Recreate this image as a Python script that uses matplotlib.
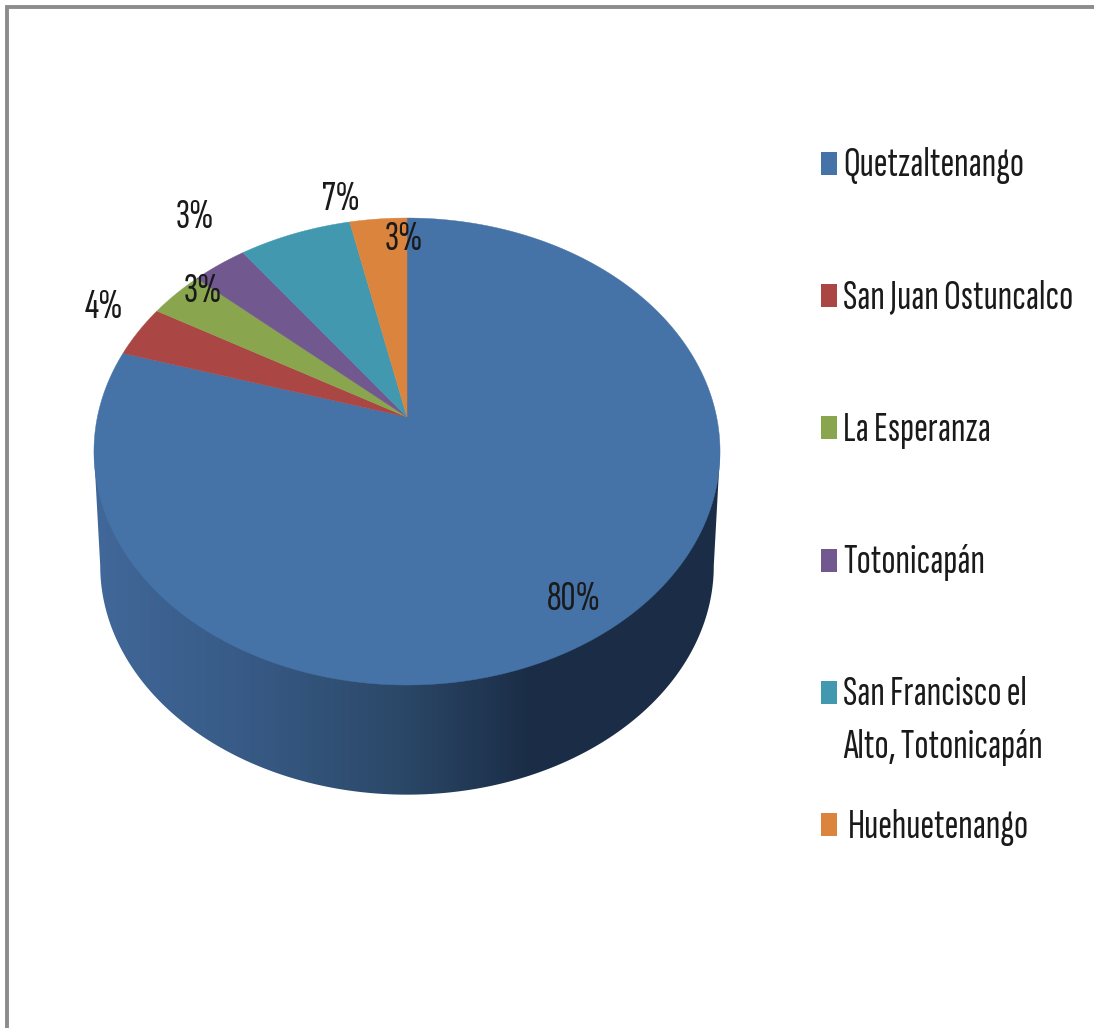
# 3D style pie, drawn on an axes that runs in image pixels
import numpy as np
import matplotlib
matplotlib.use('Agg')
import matplotlib.pyplot as plt
from matplotlib.patches import Rectangle

plt.rcParams['font.family'] = ['Sofia Sans Extra Condensed', 'Fira Sans Extra Condensed', 'Open Sans Condensed', 'Liberation Sans', 'DejaVu Sans']

labels = ['Quetzaltenango', 'San Juan Ostuncalco', 'La Esperanza', 'Totonicapán',
          'San Francisco el\nAlto, Totonicapán', 'Huehuetenango']
values = [79.7, 3.6, 3.3, 3.3, 6.7, 3.4]
colors = ['#4572A7', '#AA4643', '#89A54E', '#71588F', '#4198AF', '#DB843D']

wall_stops = [94, 250, 400, 530, 720]
wall_cols = ['#41689A', '#375A85', '#2B4868', '#1B2D46', '#1B2D46']

W, H = 1094, 1028
fig = plt.figure(figsize=(W / 100, H / 100), dpi=100)
ax = fig.add_axes([0, 0, 1, 1])
ax.set_xlim(0, W)
ax.set_ylim(H, 0)
ax.axis('off')

# outer frame, only top and left are in view
ax.plot([7, 7, W], [H, 7, 7], color='#8c8c8c', lw=2.8, solid_joinstyle='miter')


# perspective map of the unit disc, t is clockwise from 12 o'clock
def disc(t, scale=1.0, dy=0.0):
    X = np.sin(t)
    Y = np.cos(t)
    w = 1 + 0.1478 * Y
    return 407 + scale * 309.6 * X / w, 417 + dy - scale * 228.4 * Y / w


# side wall with horizontal shading, clipped to the outline
t0 = np.arccos(-0.1478)
t_low = np.linspace(t0, 2 * np.pi - t0, 300)
xt, yt = disc(t_low)
xb, yb = disc(t_low, scale=0.98, dy=115)
wall_x = np.r_[xt[0], xb, xt[-1]]
wall_y = np.r_[yt[0], yb, yt[-1]]
wall = ax.fill(wall_x, wall_y, color='none', lw=0)[0]
ramp_x = np.arange(wall_stops[0], wall_stops[-1] + 1)
rgb = np.array([matplotlib.colors.to_rgb(c) for c in wall_cols])
ramp = np.stack([np.interp(ramp_x, wall_stops, rgb[:, i]) for i in range(3)], axis=-1)[None, :, :]
im = ax.imshow(ramp, extent=[wall_stops[0], wall_stops[-1], 800, 440], aspect='auto', zorder=1)
im.set_clip_path(wall)
ax.set_xlim(0, W)
ax.set_ylim(H, 0)

# top face, first slice runs clockwise from the top
start = 0.0
for v, c in zip(values, colors):
    end = start + v / sum(values) * 2 * np.pi
    t = np.linspace(start, end, max(int(v * 8), 12))
    x, y = disc(t)
    ax.fill(np.r_[407, x], np.r_[417, y], color=c, lw=0.3, zorder=2)
    start = end

# percent labels
pct_x = [574, 104, 203, 195, 341, 404]
pct_y = [600, 307, 291, 217, 200, 240]
for v, x, y in zip(values, pct_x, pct_y):
    ax.text(x, y, f'{v:.0f}%', fontsize=30, color='#1a1a1a', ha='center', va='center', zorder=3)

# legend
text_x = [843, 843, 843, 843, 843, 848]
for i, (lab, c) in enumerate(zip(labels, colors)):
    yc = 163 + 132.2 * i
    ax.add_patch(Rectangle((821, yc - 11), 16, 23, color=c, lw=0, zorder=3))
    if '\n' in lab:
        line1, line2 = lab.split('\n')
        ax.text(text_x[i], yc + 3, line1, fontsize=30, color='#1a1a1a', va='center', zorder=3)
        ax.text(text_x[i], yc + 56, line2, fontsize=30, color='#1a1a1a', va='center', zorder=3)
    else:
        ax.text(text_x[i], yc + 3, lab, fontsize=30, color='#1a1a1a', va='center', zorder=3)

fig.savefig('out.png', dpi=100)
